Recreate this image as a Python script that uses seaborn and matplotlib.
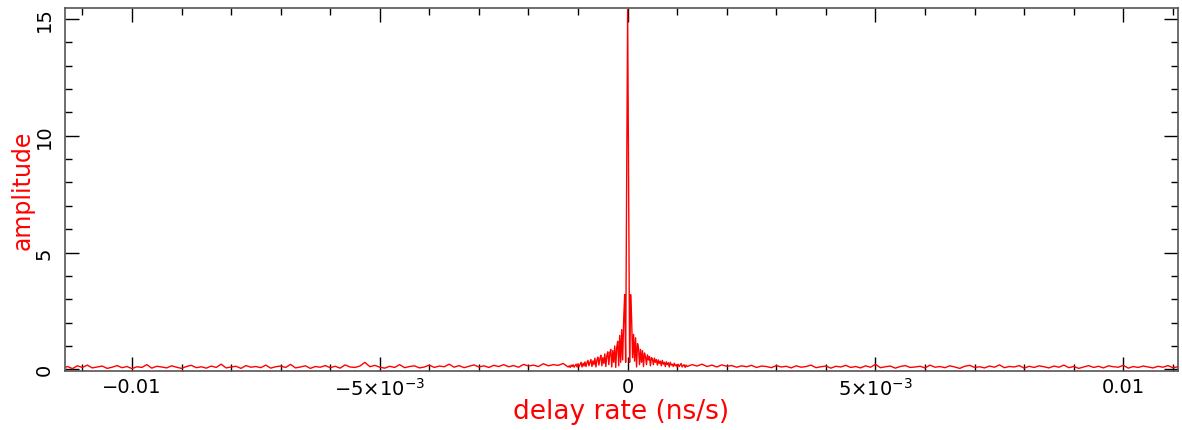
import numpy as np
import pandas as pd
import seaborn as sns
import matplotlib.pyplot as plt
from matplotlib.ticker import MultipleLocator

# baseline noise, left side: -0.0114 .. -0.0013 ns/s, step 1e-4
amp_left = [
    0.05, 0.12, 0.03, 0.15, 0.08, 0.18, 0.06, 0.10, 0.14, 0.04,
    0.09, 0.16, 0.07, 0.12, 0.03, 0.11, 0.08, 0.20, 0.05, 0.13,
    0.10, 0.06, 0.15, 0.09, 0.04, 0.12, 0.17, 0.07, 0.11, 0.05,
    0.14, 0.08, 0.22, 0.06, 0.10, 0.13, 0.04, 0.16, 0.09, 0.12,
    0.07, 0.18, 0.05, 0.11, 0.14, 0.08, 0.21, 0.06, 0.10, 0.15,
    0.04, 0.12, 0.09, 0.16, 0.07, 0.13, 0.05, 0.19, 0.10, 0.08,
    0.14, 0.30, 0.11, 0.17, 0.09, 0.05, 0.13, 0.08, 0.20, 0.07,
    0.12, 0.15, 0.06, 0.10, 0.18, 0.08, 0.14, 0.11, 0.22, 0.09,
    0.16, 0.07, 0.13, 0.19, 0.10, 0.15, 0.08, 0.17, 0.12, 0.20,
    0.11, 0.16, 0.09, 0.21, 0.14, 0.18, 0.12, 0.24, 0.15, 0.20,
    0.17, 0.25,
]

# central fringe: -0.0012 .. 0.0012 ns/s, step 2e-5
amp_center = [
    0.10, 0.15, 0.08, 0.18, 0.12, 0.20, 0.09, 0.16, 0.22, 0.10,
    0.24, 0.12, 0.20, 0.30, 0.10, 0.26, 0.14, 0.32, 0.12, 0.28,
    0.38, 0.15, 0.30, 0.42, 0.12, 0.36, 0.20, 0.48, 0.10, 0.40,
    0.52, 0.18, 0.45, 0.60, 0.15, 0.50, 0.25, 0.66, 0.12, 0.58,
    0.75, 0.20, 0.70, 0.85, 0.10, 0.80, 0.30, 1.00, 0.08, 0.95,
    1.20, 0.15, 1.45, 0.30, 1.70, 0.40, 2.10, 3.20, 0.30, 8.00,
    15.4,
    8.00, 0.30, 3.20, 2.20, 0.50, 1.50, 0.35, 1.35, 0.10, 1.10,
    0.90, 0.20, 0.85, 0.30, 0.80, 0.12, 0.70, 0.55, 0.20, 0.62,
    0.40, 0.55, 0.15, 0.50, 0.45, 0.20, 0.48, 0.30, 0.42, 0.18,
    0.40, 0.25, 0.35, 0.15, 0.38, 0.22, 0.30, 0.12, 0.32, 0.20,
    0.28, 0.10, 0.30, 0.18, 0.22, 0.12, 0.26, 0.15, 0.20, 0.10,
    0.22, 0.12, 0.18, 0.25, 0.10, 0.16, 0.20, 0.08, 0.18, 0.12,
]

# baseline noise, right side: 0.0013 .. 0.0112 ns/s, step 1e-4
amp_right = [
    0.20, 0.14, 0.22, 0.12, 0.18, 0.10, 0.19, 0.13, 0.16, 0.09,
    0.15, 0.11, 0.17, 0.08, 0.14, 0.12, 0.07, 0.16, 0.10, 0.13,
    0.06, 0.15, 0.09, 0.12, 0.18, 0.07, 0.11, 0.14, 0.05, 0.13,
    0.10, 0.17, 0.08, 0.12, 0.06, 0.15, 0.09, 0.21, 0.07, 0.11,
    0.14, 0.05, 0.12, 0.16, 0.08, 0.10, 0.13, 0.06, 0.18, 0.09,
    0.12, 0.07, 0.15, 0.10, 0.04, 0.13, 0.17, 0.08, 0.11, 0.06,
    0.14, 0.09, 0.19, 0.07, 0.12, 0.10, 0.16, 0.05, 0.13, 0.08,
    0.15, 0.11, 0.06, 0.14, 0.09, 0.18, 0.07, 0.12, 0.04, 0.10,
    0.16, 0.08, 0.13, 0.06, 0.15, 0.11, 0.09, 0.17, 0.05, 0.12,
    0.08, 0.14, 0.10, 0.06, 0.13, 0.09, 0.16, 0.07, 0.11, 0.20,
]

rate_left = -0.0114 + 1e-4 * np.arange(len(amp_left))
rate_center = -0.0012 + 2e-5 * np.arange(len(amp_center))
rate_right = 0.0013 + 1e-4 * np.arange(len(amp_right))

xtick_pos = [-0.01, -0.005, 0, 0.005, 0.01]
xtick_lab = ["\u22120.01", r"$-5{\times}10^{-3}$", "0", r"$5{\times}10^{-3}$", "0.01"]
ytick_pos = [0, 5, 10, 15]

df = pd.DataFrame({
    "rate": np.concatenate([rate_left, rate_center, rate_right]),
    "amp": amp_left + amp_center + amp_right,
})

sns.set_style("ticks")
plt.rcParams["font.family"] = ["DejaVu Sans"]
plt.rcParams["mathtext.fontset"] = "dejavusans"

fig = plt.figure(figsize=(11.82, 4.31), dpi=100)
ax = fig.add_axes([0.055, 0.137, 0.9415, 0.842])

sns.lineplot(data=df, x="rate", y="amp", color="red", linewidth=1.0,
             estimator=None, sort=False, ax=ax)

ax.set_xlim(-0.01135, 0.0111)
ax.set_ylim(-0.07, 15.47)
ax.set_xticks(xtick_pos)
ax.set_xticklabels(xtick_lab)
ax.set_yticks(ytick_pos)
ax.xaxis.set_minor_locator(MultipleLocator(0.001))
ax.yaxis.set_minor_locator(MultipleLocator(1))

ax.tick_params(which="both", direction="in", top=True, right=True,
               color="black", width=1, labelcolor="black")
ax.tick_params(which="major", length=10, labelsize=14)
ax.tick_params(axis="x", pad=4)
ax.tick_params(axis="y", pad=8)
ax.tick_params(which="minor", length=5)
ax.tick_params(axis="y", labelrotation=90)
for lab in ax.get_yticklabels():
    lab.set_va("center")

for sp in ax.spines.values():
    sp.set_color("#555555")
    sp.set_linewidth(1.2)

ax.set_xlabel("delay rate (ns/s)", color="red", fontsize=19, labelpad=0)
ax.set_ylabel("amplitude", color="red", fontsize=17, labelpad=0)

fig.savefig("out.png", dpi=100, facecolor="white")
